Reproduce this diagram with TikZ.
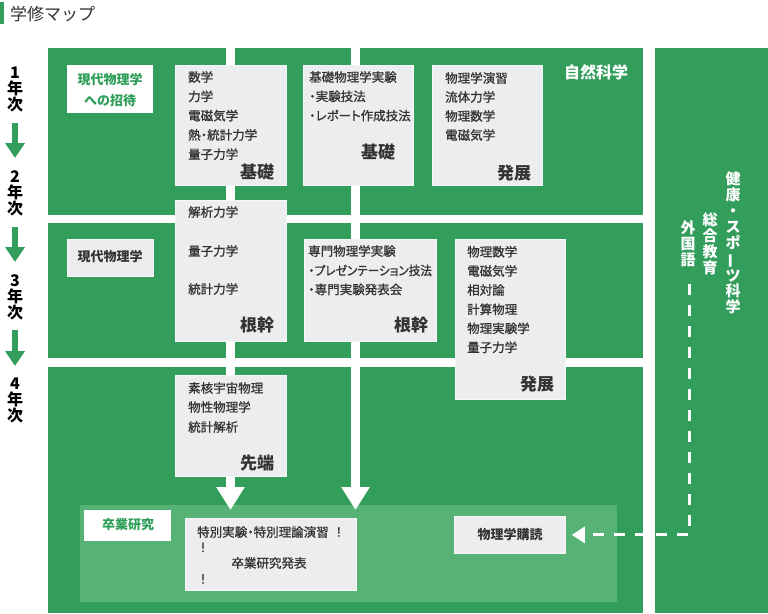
\documentclass[tikz,border=0pt]{standalone}
\usepackage{fontspec}
\setmainfont{Noto Sans CJK JP}
\newfontfamily\medfont{Noto Sans CJK JP}[FakeBold=1.0,RawFeature=+palt]
\usetikzlibrary{arrows.meta}
\definecolor{mg}{RGB}{51,158,92}
\definecolor{lg}{RGB}{87,178,118}
\definecolor{bx}{RGB}{235,237,238}
\definecolor{bxline}{RGB}{246,247,247}
\definecolor{tx}{RGB}{51,51,51}
\definecolor{gt}{RGB}{46,158,88}
\newcommand{\ndot}{\makebox[6.5pt][c]{・}}
\tikzset{
  gbox/.style={fill=bx, draw=bxline, line width=0.8pt, anchor=north west, inner sep=0pt},
  wbox/.style={fill=white, draw=none, anchor=north west, inner sep=0pt},
  itm/.style={anchor=west, inner sep=0pt, text=tx, font=\medfont\fontsize{12.5}{14}\selectfont},
  lvl/.style={inner sep=0pt, text=tx, font=\bfseries\fontsize{17}{18}\selectfont},
  hdg/.style={inner sep=0pt, font=\bfseries\fontsize{13}{21}\selectfont, align=center},
  yr/.style={inner sep=0pt, text=black, font=\bfseries\fontsize{16}{16}\selectfont, align=center},
  vtxt/.style={anchor=north, inner sep=0pt, text=white, font=\bfseries\fontsize{15}{16}\selectfont, align=center},
  yarr/.style={draw=mg, line width=5.5pt, -{Triangle[width=19pt,length=15pt]}},
  warr/.style={draw=white, line width=9pt, -{Triangle[width=27pt,length=23pt]}},
  darr/.style={draw=white, line width=3pt, dash pattern=on 11pt off 10pt, -{Triangle[width=16pt,length=13pt]}},
}
\begin{document}
\begin{tikzpicture}[x=1pt,y=-1pt]
\useasboundingbox (0,0) rectangle (768,613);
% title
\fill[mg] (0,2) rectangle (4,24);
\node[anchor=west, inner sep=0pt, text=tx, font=\fontsize{17}{18}\selectfont] (title) at (10,14) {学修マップ};
% panels
\fill[mg] (48,48) rectangle (643,215);
\fill[mg] (48,223) rectangle (643,358);
\fill[mg] (48,367) rectangle (643,613);
\fill[mg] (655,48) rectangle (768,613);
\fill[lg] (80,505) rectangle (617,602);
% year column
\node[yr] (yr1) at (15,89) {1\\年\\次};
\node[yr] (yr2) at (15,193) {2\\年\\次};
\node[yr] (yr3) at (15,297) {3\\年\\次};
\node[yr] (yr4) at (15,400) {4\\年\\次};
\coordinate (ya1) at (15,123); \coordinate (yb1) at (15,158);
\coordinate (ya2) at (15,227); \coordinate (yb2) at (15,262);
\coordinate (ya3) at (15,330); \coordinate (yb3) at (15,366);
\draw[yarr] (ya1) -- (yb1);
\draw[yarr] (ya2) -- (yb2);
\draw[yarr] (ya3) -- (yb3);
% white flow arrows
\coordinate (w1s) at (230.5,48); \coordinate (w1e) at (230.5,510);
\coordinate (w2s) at (355.5,48); \coordinate (w2e) at (355.5,510);
\draw[warr] (w1s) -- (w1e);
\draw[warr] (w2s) -- (w2e);
% left labels
\node[wbox, minimum width=86pt, minimum height=48pt] (intro) at (67,65) {};
\node[hdg, text=gt] (introt) at (110,90.5) {現代物理学\\への招待};
\node[gbox, minimum width=86pt, minimum height=37pt] (mod) at (67,239) {};
\node[hdg, text=tx] (modt) at (110,257) {現代物理学};
% row 1 boxes
\node[gbox, minimum width=111pt, minimum height=120pt] (b1) at (175,65) {};
\node[itm] at (188,77) {数学};
\node[itm] at (188,96.3) {力学};
\node[itm] at (188,115.6) {電磁気学};
\node[itm] at (188,134.9) {熱\ndot 統計力学};
\node[itm] at (188,154.2) {量子力学};
\node[lvl] (b1l) at (257,172) {基礎};
\node[gbox, minimum width=110pt, minimum height=120pt] (b2) at (303,65) {};
\node[itm] at (309,77) {基礎物理学実験};
\node[itm] at (309,96.3) {\ndot 実験技法};
\node[itm] at (309,115.6) {\ndot レポート作成技法};
\node[lvl] (b2l) at (378,152) {基礎};
\node[gbox, minimum width=110pt, minimum height=120pt] (b3) at (432,65) {};
\node[itm] at (445,78) {物理学演習};
\node[itm] at (445,97) {流体力学};
\node[itm] at (445,116) {物理数学};
\node[itm] at (445,135) {電磁気学};
\node[lvl] (b3l) at (514,173) {発展};
\node[inner sep=0pt, text=white, font=\bfseries\fontsize{16}{16}\selectfont] (nat) at (596,72) {自然科学};
% row 2 boxes
\node[gbox, minimum width=111pt, minimum height=141pt] (b4) at (175,200) {};
\node[itm] at (188,212) {解析力学};
\node[itm] at (188,251) {量子力学};
\node[itm] at (188,289) {統計力学};
\node[lvl] (b4l) at (257,325) {根幹};
\node[gbox, minimum width=132pt, minimum height=102pt] (b5) at (304,239) {};
\node[itm] at (308,251) {専門物理学実験};
\node[itm] at (308,270.5) {\ndot\scalebox{0.93}[1]{プレゼンテーション技法}};
\node[itm] at (308,289.5) {\ndot 専門実験発表会};
\node[lvl] (b5l) at (411,325) {根幹};
\node[gbox, minimum width=110pt, minimum height=160pt] (b6) at (455,239) {};
\node[itm] at (467,251.7) {物理数学};
\node[itm] at (467,271) {電磁気学};
\node[itm] at (467,290) {相対論};
\node[itm] at (467,309.3) {計算物理};
\node[itm] at (467,328.3) {物理実験学};
\node[itm] at (467,347.3) {量子力学};
\node[lvl] (b6l) at (537,384) {発展};
% row 3 boxes
\node[gbox, minimum width=111pt, minimum height=101pt] (b7) at (175,375) {};
\node[itm] at (188,388) {素核宇宙物理};
\node[itm] at (188,407) {物性物理学};
\node[itm] at (188,427) {統計解析};
\node[lvl] (b7l) at (257,463) {先端};
% graduation research
\node[wbox, minimum width=87pt, minimum height=31pt] (grad) at (84,510) {};
\node[hdg, text=gt] (gradt) at (128,524.5) {卒業研究};
\node[gbox, minimum width=171pt, minimum height=72pt] (b8) at (185,518) {};
\node[itm] at (197,532) {特別実験\ndot 特別理論演習\hspace{7pt}！};
\node[itm, anchor=center] at (203,547.5) {！};
\node[itm, anchor=center] at (269,563) {卒業研究発表};
\node[itm, anchor=center] at (203,579) {！};
\node[gbox, minimum width=111pt, minimum height=37pt] (kd) at (454,516) {};
\node[hdg, text=tx] (kdt) at (510,534.5) {物理学購読};
% right panel vertical text
\node[vtxt] (v1) at (733,172) {健\\康\\・\\ス\\ポ\\\rotatebox[origin=c]{90}{ー}\\ツ\\科\\学};
\node[vtxt] (v2) at (710,212) {総\\合\\教\\育};
\node[vtxt] (v3) at (688,220) {外\\国\\語};
\coordinate (fl) at (689,284);
\draw[darr] (fl) |- ([xshift=6pt]kd.east);
\end{tikzpicture}
\end{document}
